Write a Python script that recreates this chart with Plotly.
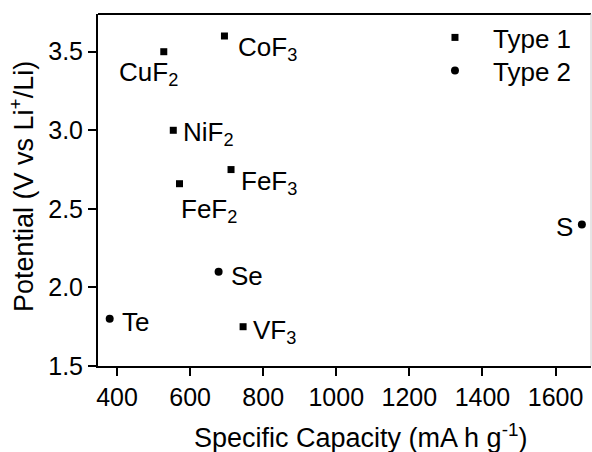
import plotly.graph_objects as go

# Data
type1_names = ["CuF<sub>2</sub>", "CoF<sub>3</sub>", "NiF<sub>2</sub>", "FeF<sub>2</sub>", "FeF<sub>3</sub>", "VF<sub>3</sub>"]
type1_capacity = [528, 694, 554, 571, 712, 745]
type1_potential = [3.5, 3.6, 3.0, 2.66, 2.75, 1.75]

type2_names = ["Se", "Te", "S"]
type2_capacity = [678, 380, 1672]
type2_potential = [2.1, 1.8, 2.4]

x_ticks = [400, 600, 800, 1000, 1200, 1400, 1600]
y_ticks = [1.5, 2.0, 2.5, 3.0, 3.5]

FONT = "Liberation Sans"
FS_TICK = 25
FS_LAB = 26
FS_TITLE = 27

fig = go.Figure()
fig.add_trace(go.Scatter(x=type1_capacity, y=type1_potential, mode="markers", name="Type 1",
                         legend="legend",
                         marker=dict(symbol="square", size=7, color="black")))
fig.add_trace(go.Scatter(x=type2_capacity, y=type2_potential, mode="markers", name="Type 2",
                         legend="legend2",
                         marker=dict(symbol="circle", size=8, color="black")))

# label placements (offsets in px)
label_pos = {
    "CuF<sub>2</sub>": ("center", -15, -22),
    "CoF<sub>3</sub>": ("left", 12, -12),
    "NiF<sub>2</sub>": ("left", 8, -3),
    "FeF<sub>2</sub>": ("left", -1, -27),
    "FeF<sub>3</sub>": ("left", 8, -13),
    "VF<sub>3</sub>": ("left", 8, -5),
    "Se": ("left", 10, -4),
    "Te": ("left", 10, -3),
    "S": ("right", -7, -2),
}
for names, xs, ys in [(type1_names, type1_capacity, type1_potential),
                      (type2_names, type2_capacity, type2_potential)]:
    for n, xv, yv in zip(names, xs, ys):
        anc, dx, dy = label_pos[n]
        fig.add_annotation(x=xv, y=yv, text=n, showarrow=False, xanchor=anc, yanchor="middle",
                           xshift=dx, yshift=dy, font=dict(size=FS_LAB, color="black", family=FONT))

axis_common = dict(showgrid=False, zeroline=False, showline=True, linecolor="black", linewidth=2,
                   ticks="outside", ticklen=8, tickwidth=2, tickcolor="black",
                   tickfont=dict(size=FS_TICK, color="black", family=FONT))

fig.update_xaxes(range=[348, 1697], tickvals=x_ticks, **axis_common)
fig.update_yaxes(range=[1.5, 3.74], tickvals=y_ticks, tickformat=".1f", **axis_common)

# axis titles (placed as annotations in pixel-matched paper coords)
PW, PH = 493, 352
fig.add_annotation(xref="paper", yref="paper", x=(360 - 98) / PW, y=-(436 - 366) / PH,
                   text="Specific Capacity (mA h g<sup>-1</sup>)", showarrow=False,
                   xanchor="center", yanchor="middle", font=dict(size=FS_TITLE, color="black", family=FONT))
fig.add_annotation(xref="paper", yref="paper", x=-(98 - 22) / PW, y=(366 - 187) / PH,
                   text="Potential (V vs Li<sup>+</sup>/Li)", showarrow=False, textangle=-90,
                   xanchor="center", yanchor="middle", font=dict(size=FS_TITLE, color="black", family=FONT))

# top frame line and faint right edge
fig.add_shape(type="line", xref="paper", yref="paper", x0=0, x1=1, y0=1, y1=1,
              line=dict(color="black", width=2))
fig.add_shape(type="line", xref="paper", yref="paper", x0=1, x1=1, y0=0, y1=1,
              line=dict(color="#cccccc", width=1))

leg_common = dict(xanchor="left", yanchor="top", bgcolor="rgba(0,0,0,0)",
                  font=dict(size=FS_LAB, color="black", family=FONT), itemwidth=66)
fig.update_layout(
    width=592, height=452,
    margin=dict(l=98, r=1, t=14, b=86),
    paper_bgcolor="white", plot_bgcolor="white",
    showlegend=True,
    legend=dict(x=0.647, y=1 - (14 - 14) / PH, **leg_common),
    legend2=dict(x=0.647, y=1 - (47 - 14) / PH, **leg_common),
    font=dict(family=FONT, color="black", size=FS_LAB),
)

fig.write_html("out.html")
